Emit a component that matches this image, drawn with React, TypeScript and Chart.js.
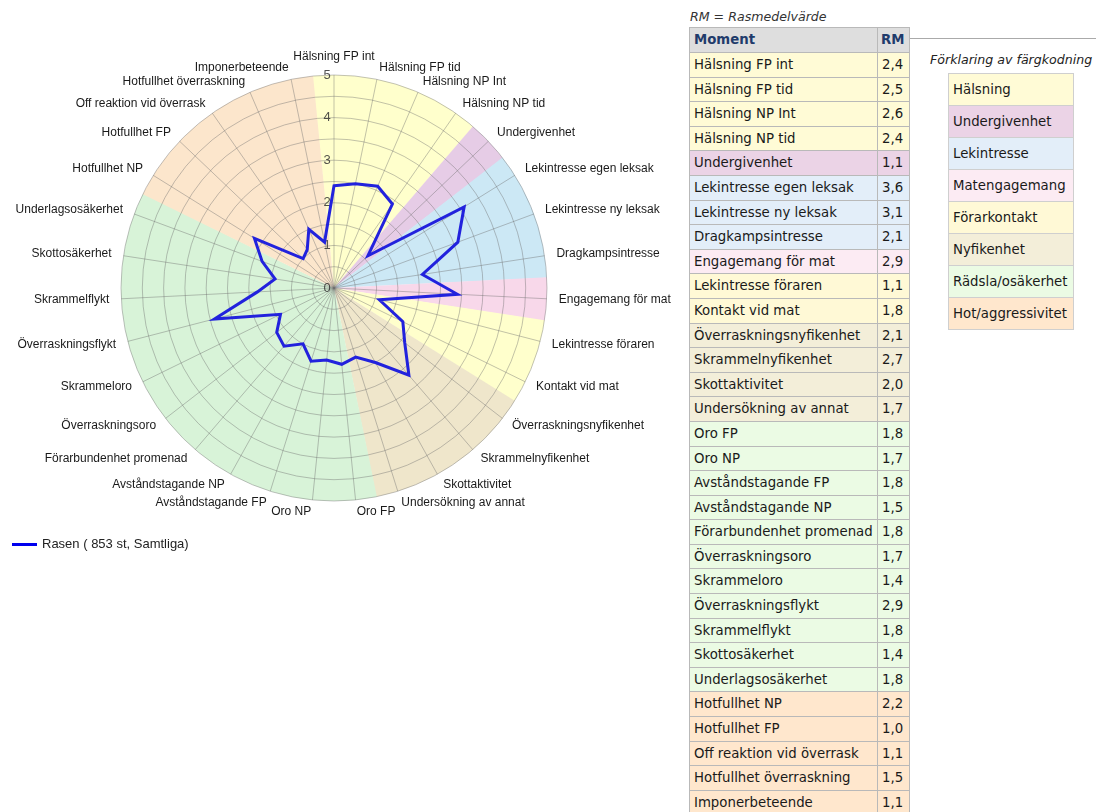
import React, { useEffect, useRef } from "react";
import { Chart, registerables } from "chart.js";

Chart.register(...registerables);

const categories = [
  "Hälsning FP int", "Hälsning FP tid", "Hälsning NP Int", "Hälsning NP tid",
  "Undergivenhet",
  "Lekintresse egen leksak", "Lekintresse ny leksak", "Dragkampsintresse",
  "Engagemang för mat",
  "Lekintresse föraren", "Kontakt vid mat",
  "Överraskningsnyfikenhet", "Skrammelnyfikenhet", "Skottaktivitet", "Undersökning av annat",
  "Oro FP", "Oro NP", "Avståndstagande FP", "Avståndstagande NP", "Förarbundenhet promenad",
  "Överraskningsoro", "Skrammeloro", "Överraskningsflykt", "Skrammelflykt", "Skottosäkerhet",
  "Underlagsosäkerhet",
  "Hotfullhet NP", "Hotfullhet FP", "Off reaktion vid överrask", "Hotfullhet överraskning", "Imponerbeteende",
];

const values = [
  2.4, 2.5, 2.6, 2.4, 1.1, 3.6, 3.1, 2.1, 2.9, 1.1, 1.8, 2.1, 2.7, 2.0, 1.7,
  1.8, 1.7, 1.8, 1.5, 1.8, 1.7, 1.4, 2.9, 1.8, 1.4, 1.8, 2.2, 1.0, 1.1, 1.5, 1.1,
];

const groupOf = [
  0, 0, 0, 0, 1, 2, 2, 2, 3, 4, 4, 5, 5, 5, 5,
  6, 6, 6, 6, 6, 6, 6, 6, 6, 6, 6, 7, 7, 7, 7, 7,
];

const groupNames = [
  "Hälsning", "Undergivenhet", "Lekintresse", "Matengagemang",
  "Förarkontakt", "Nyfikenhet", "Rädsla/osäkerhet", "Hot/aggressivitet",
];

const radarColors = [
  "#ffffcc", "#e6cce6", "#cce8f5", "#f8d8ea",
  "#ffffcc", "#efe6cb", "#d8f3d8", "#fce6cc",
];

const tableColors = [
  "#fffbd6", "#ebd3e6", "#e3eef9", "#fcebf3",
  "#fff9d6", "#f3eed9", "#ebfbe4", "#ffe7cd",
];

const tickValues = [0, 1, 2, 3, 4, 5];
const tickLabels = ["0", "1", "2", "3", "4", "5"];

const seriesLabel = "Rasen ( 853 st, Samtliga)";

const radarPlugin = {
  id: "radarDecor",
  beforeDraw(chart: any) {
    const s = chart.scales.r;
    const ctx = chart.ctx;
    const n = categories.length;
    const R = s.getDistanceFromCenterForValue(5);
    const half = Math.PI / n;
    ctx.save();
    let start = 0;
    while (start < n) {
      let end = start;
      while (end + 1 < n && groupOf[end + 1] === groupOf[start]) end++;
      const a0 = s.getIndexAngle(start) - Math.PI / 2 - half;
      const a1 = s.getIndexAngle(end) - Math.PI / 2 + half;
      ctx.beginPath();
      ctx.moveTo(s.xCenter, s.yCenter);
      ctx.arc(s.xCenter, s.yCenter, R, a0, a1 + 0.003);
      ctx.closePath();
      ctx.fillStyle = radarColors[groupOf[start]];
      ctx.fill();
      start = end + 1;
    }
    ctx.restore();
  },
  beforeDatasetsDraw(chart: any) {
    const s = chart.scales.r;
    const ctx = chart.ctx;
    const R = s.getDistanceFromCenterForValue(5);
    ctx.save();
    ctx.font = '13px "Liberation Sans", Arial, sans-serif';
    ctx.fillStyle = "rgba(50,50,50,0.85)";
    ctx.textAlign = "center";
    ctx.textBaseline = "middle";
    tickValues.forEach((v, i) => {
      const d = s.getDistanceFromCenterForValue(v);
      ctx.fillText(tickLabels[i], s.xCenter - 7, s.yCenter - d);
    });
    ctx.font = '12px "Liberation Sans", Arial, sans-serif';
    ctx.fillStyle = "#1a1a1a";
    categories.forEach((lab, i) => {
      const p = s.getPointPosition(i, R + 12);
      const deg = (s.getIndexAngle(i) * 180) / Math.PI;
      let y = p.y;
      if (deg < 0.01) {
        ctx.textAlign = "center";
        y -= 6;
      } else if (deg < 180) {
        ctx.textAlign = "left";
      } else {
        ctx.textAlign = "right";
      }
      ctx.fillText(lab, p.x, y);
    });
    ctx.restore();
  },
};

const fmt = (v: number) => v.toFixed(1).replace(".", ",");

export default function App() {
  const ref = useRef<HTMLCanvasElement>(null);
  useEffect(() => {
    if (!ref.current) return;
    const chart = new Chart(ref.current, {
      type: "radar",
      data: {
        labels: categories,
        datasets: [
          {
            label: seriesLabel,
            data: values,
            borderColor: "#2222dd",
            borderWidth: 3,
            pointRadius: 0,
            pointHoverRadius: 0,
            fill: false,
            tension: 0,
          },
        ],
      },
      options: {
        responsive: false,
        maintainAspectRatio: false,
        animation: false,
        layout: { padding: { left: 121, right: 141, top: 75, bottom: 75 } },
        plugins: { legend: { display: false }, tooltip: { enabled: false } },
        scales: {
          r: {
            min: 0,
            max: 5,
            ticks: { display: false, stepSize: 0.5 },
            grid: { circular: true, color: "rgba(110,110,110,0.42)", lineWidth: 1 },
            angleLines: { color: "rgba(110,110,110,0.42)", lineWidth: 1 },
            pointLabels: { display: false },
          },
        },
      } as any,
      plugins: [radarPlugin],
    });
    return () => chart.destroy();
  }, []);

  const border = "1px solid #b9b9b9";
  const rowH = 24.6;
  const tableFont = '13.3px "DejaVu Sans", Verdana, sans-serif';

  return (
    <div style={{ position: "fixed", left: 0, top: 0, width: 1096, height: 812, overflow: "hidden", background: "#fff" }}>
      <canvas ref={ref} width={688} height={576} style={{ position: "absolute", left: 0, top: 0, width: 688, height: 576 }} />
      <div style={{ position: "absolute", left: 12, top: 543, width: 25, height: 3, background: "#0000ee" }} />
      <div style={{ position: "absolute", left: 42, top: 536, font: '13px "Liberation Sans", Arial, sans-serif', lineHeight: "16px", color: "#222", whiteSpace: "nowrap" }}>
        {seriesLabel}
      </div>

      <div style={{ position: "absolute", left: 690, top: 9, font: 'italic 12.6px "DejaVu Sans", Verdana, sans-serif', lineHeight: "16px", color: "#333", whiteSpace: "nowrap" }}>
        RM = Rasmedelvärde
      </div>

      <div style={{ position: "absolute", left: 689, top: 27, width: 221, borderLeft: border, borderTop: border, boxSizing: "border-box" }}>
        <div style={{ display: "flex", height: 25, background: "#dedede", font: tableFont, fontWeight: "bold", color: "#1f3b6b" }}>
          <div style={{ width: 188, borderRight: border, borderBottom: border, boxSizing: "border-box", paddingLeft: 4, lineHeight: "24px" }}>Moment</div>
          <div style={{ width: 32, borderRight: border, borderBottom: border, boxSizing: "border-box", paddingLeft: 3, lineHeight: "24px" }}>RM</div>
        </div>
        {categories.map((c, i) => (
          <div key={c} style={{ display: "flex", height: rowH, background: tableColors[groupOf[i]], font: tableFont, color: "#1a1a1a" }}>
            <div style={{ width: 188, borderRight: border, borderBottom: border, boxSizing: "border-box", paddingLeft: 4, lineHeight: `${rowH - 1}px`, whiteSpace: "nowrap", overflow: "hidden" }}>{c}</div>
            <div style={{ width: 32, borderRight: border, borderBottom: border, boxSizing: "border-box", paddingLeft: 4, lineHeight: `${rowH - 1}px` }}>{fmt(values[i])}</div>
          </div>
        ))}
      </div>

      <div style={{ position: "absolute", left: 910, top: 38, width: 186, height: 1, background: "#aaa" }} />
      <div style={{ position: "absolute", left: 930, top: 52, font: 'italic 12.6px "DejaVu Sans", Verdana, sans-serif', lineHeight: "16px", color: "#222", whiteSpace: "nowrap" }}>
        Förklaring av färgkodning
      </div>
      <div style={{ position: "absolute", left: 948, top: 73, width: 126, borderLeft: "1px solid #cfcfcf", borderTop: "1px solid #cfcfcf", boxSizing: "border-box" }}>
        {groupNames.map((g, i) => (
          <div key={g} style={{ height: 32, background: tableColors[i], borderRight: "1px solid #cfcfcf", borderBottom: "1px solid #cfcfcf", boxSizing: "border-box", paddingLeft: 4, font: tableFont, lineHeight: "31px", color: "#1a1a1a", whiteSpace: "nowrap" }}>
            {g}
          </div>
        ))}
      </div>
    </div>
  );
}
